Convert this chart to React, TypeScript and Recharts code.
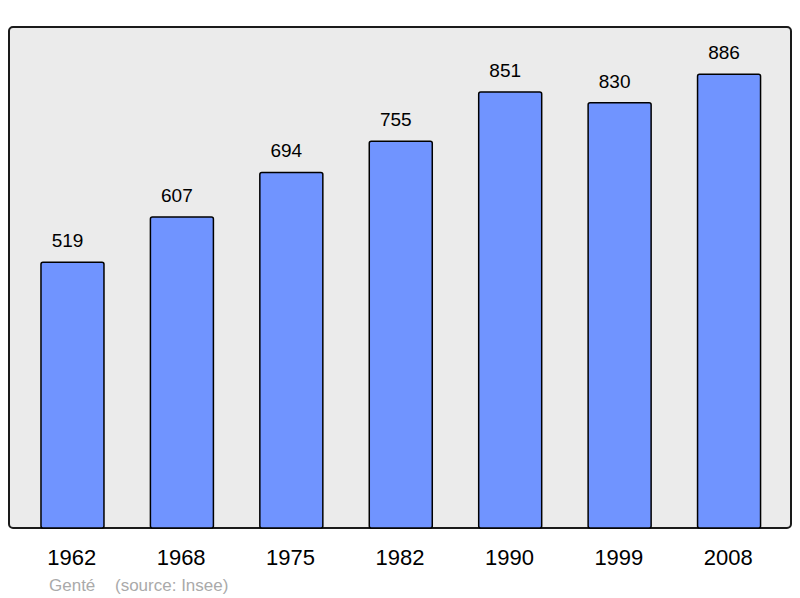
import React from "react";
import { BarChart, Bar, XAxis, YAxis, LabelList } from "recharts";

const years = ["1962", "1968", "1975", "1982", "1990", "1999", "2008"];
const population = [519, 607, 694, 755, 851, 830, 886];

const data = years.map((year, i) => ({ year, population: population[i] }));

const FONT = "'Liberation Sans', Arial, sans-serif";

export default function App() {
  return (
    <div style={{ position: "fixed", left: 0, top: 0, width: 800, height: 598, background: "#fff" }}>
      <div
        style={{
          position: "absolute",
          left: 8,
          top: 26,
          width: 780,
          height: 499,
          border: "2px solid #1a1a1a",
          borderRadius: 5,
          background: "#ebebeb",
        }}
      />
      <div style={{ position: "absolute", left: 0, top: 0 }}>
        <BarChart
          width={800}
          height={598}
          data={data}
          margin={{ top: 27, right: 9, bottom: 40, left: 9 }}
          barCategoryGap="21%"
        >
          <XAxis
            dataKey="year"
            height={30}
            axisLine={false}
            tickLine={false}
            tickSize={0}
            tickMargin={21}
            padding={{ left: 9, right: 7 }}
            tick={{ fill: "#000", fontSize: 22, fontFamily: FONT, dx: -1 }}
          />
          <YAxis hide domain={[0, 978]} />
          <Bar
            dataKey="population"
            fill="#7094ff"
            stroke="#000"
            strokeWidth={1.5}
            radius={2}
            isAnimationActive={false}
          >
            <LabelList
              dataKey="population"
              position="top"
              offset={15}
              dx={-5}
              fill="#000"
              fontSize={19}
              fontFamily={FONT}
            />
          </Bar>
        </BarChart>
      </div>
      <svg width={800} height={598} style={{ position: "absolute", left: 0, top: 0, pointerEvents: "none" }}>
        <text x={49} y={591} fill="#aaaaaa" fontSize={17} fontFamily={FONT}>
          Genté
        </text>
        <text x={115} y={591} fill="#aaaaaa" fontSize={17} fontFamily={FONT}>
          (source: Insee)
        </text>
      </svg>
    </div>
  );
}
